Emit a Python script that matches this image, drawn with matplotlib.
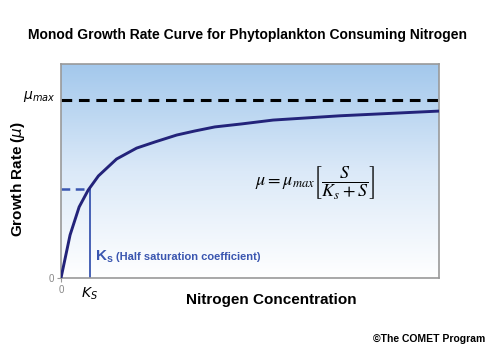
import numpy as np
import matplotlib
matplotlib.use("Agg")
import matplotlib.pyplot as plt
from matplotlib.colors import LinearSegmentedColormap

# Data (x: nitrogen concentration, 0..100 scale; y: growth rate, 0..100 scale)
conc = [0, 2.4, 4.8, 7.2, 9.9, 14.7, 20.0, 24.9, 30.6, 35.4, 40.7, 47.8, 56.1, 73.8, 100]
rate = [0, 20.1, 33.2, 41.1, 47.7, 55.6, 60.7, 63.6, 66.8, 68.7, 70.6, 72.0, 73.8, 75.8, 78.0]
mu_max = 83.2
ks = 7.6
half_rate = 41.6

plt.rcParams['font.family'] = ['Liberation Sans', 'DejaVu Sans']

fig = plt.figure(figsize=(5, 3.5), dpi=100)
ax = fig.add_axes([61/500, (350-278)/350, 378/500, 214/350])

cmap = LinearSegmentedColormap.from_list('bg', ['#ffffff', '#dbe9f8', '#a3c8ec'])
grad = np.linspace(0, 1, 256).reshape(-1, 1)
ax.imshow(grad, extent=[0, 100, 0, 100], origin='lower', aspect='auto', cmap=cmap, zorder=0)

ax.set_xlim(0, 100)
ax.set_ylim(0, 100)

ax.axhline(mu_max, color='black', lw=2.2, ls=(0, (3.5, 2.2)), zorder=2)
ax.plot([0, ks], [half_rate, half_rate], color='#3a56b0', lw=1.8, ls=(0, (3.5, 2.2)), zorder=2)
ax.plot([ks, ks], [0, half_rate], color='#3a56b0', lw=1.3, zorder=2)
ax.plot(conc, rate, color='#23237a', lw=2.1, zorder=3, solid_joinstyle='miter')

for s in ax.spines.values():
    s.set_color('#999999')
    s.set_linewidth(1.2)

ax.set_xticks([0])
ax.set_xticklabels(['0'], color='#888888', fontsize=7)
ax.set_yticks([0])
ax.set_yticklabels(['0'], color='#888888', fontsize=7)
ax.tick_params(length=3, color='#999999', pad=2)

ax.text(ks, -3.5, r'$K_S$', ha='center', va='top', fontsize=10, transform=ax.transData, clip_on=False)
ax.text(-1.5, mu_max + 1.5, r'$\mu_{max}$', ha='right', va='center', fontsize=10, clip_on=False)

ax.text(ks + 1.5, 10, r'K$_\mathregular{s}$', color='#3a56b0', fontsize=11, fontweight='bold', va='center', ha='left')
ax.text(ks + 7.0, 10, '(Half saturation coefficient)', color='#3a56b0', fontsize=8, fontweight='bold', va='center', ha='left')

ax.text(67.2, 44.5, r'$\mu = \mu_{max}\left[\dfrac{S}{K_s+S}\right]$', fontsize=13,
        ha='center', va='center', math_fontfamily='stix')

fig.text(0.496, 0.90, 'Monod Growth Rate Curve for Phytoplankton Consuming Nitrogen',
         ha='center', va='center', fontsize=10, fontweight='bold')
fig.text(0.036, 0.49, r'Growth Rate ($\mu$)', rotation=90, ha='center', va='center',
         fontsize=11, fontweight='bold')
fig.text(0.542, 0.143, 'Nitrogen Concentration', ha='center', va='center',
         fontsize=11, fontweight='bold')
fig.text(0.97, 0.03, '\u00a9The COMET Program', ha='right', va='center',
         fontsize=7.5, fontweight='bold')

fig.savefig('out.png', dpi=100)
